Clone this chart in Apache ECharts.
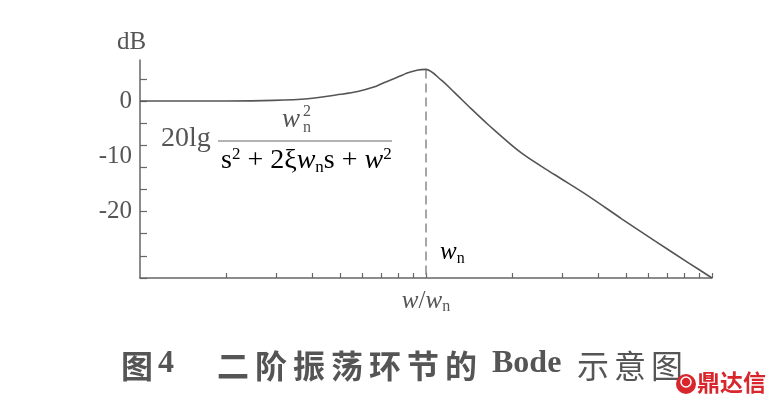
<!DOCTYPE html>
<html>
<head>
<meta charset="utf-8">
<script src="https://cdn.jsdelivr.net/npm/echarts@6/dist/echarts.min.js"></script>
<style>
html,body{margin:0;padding:0;background:#fff;}
#chart{width:777px;height:407px;}
</style>
</head>
<body>
<div id="chart"></div>
<script>
// frequency ratio w/wn (log axis) and magnitude in dB
const ratio  = [0.1, 0.2, 0.293, 0.386, 0.504, 0.577, 0.657, 0.712, 0.772, 0.865, 0.938, 1.0, 1.129, 1.254, 1.438, 1.651, 2.154, 2.812, 3.70, 4.831, 6.31, 8.30, 10];
const gainDb = [0,   0,   0.1,   0.4,   1.2,   1.7,   2.5,   3.3,   4.0,   5.1,   5.6,   5.7, 3.8,   1.6,  -1.4,  -4.3,  -9.4, -13.3, -17.2, -21.3, -25.3, -29.3, -32];
// dashed marker at w = wn
const markerX = [1, 1];
const markerY = [5.7, -32];
// axis ticks / labels
const xTicks = [0.2,0.3,0.4,0.5,0.6,0.7,0.8,0.9,1,2,3,4,5,6,7,8,9,10];
const yTicks = [-32,-28,-24,-20,-16,-12,-8,-4,0,4];
const yLabels = [0,-10,-20];
const titleText = ['图', '4', '二阶振荡环节的', 'Bode', '示意图'];
const watermark = '鼎达信';

const serif = 'Liberation Serif';
const ink = '#555';

const chart = echarts.init(document.getElementById('chart'), null, {renderer:'canvas'});

const curve = ratio.map((r,i)=>[r, gainDb[i]]);
const marker = markerX.map((r,i)=>[r, markerY[i]]);

const titleChars = titleText[2].split('');
const titleGraphics = [];
titleGraphics.push({type:'text', left:121, top:350, style:{text:titleText[0], font:'bold 32px "Noto Sans CJK SC"', fill:ink}});
titleGraphics.push({type:'text', left:158, top:348, style:{text:titleText[1], font:'bold 32px "Liberation Serif"', fill:ink}});
titleChars.forEach((c,i)=>{
  titleGraphics.push({type:'text', left:217 + i*38, top:350, style:{text:c, font:'bold 32px "Noto Sans CJK SC"', fill:ink}});
});
titleGraphics.push({type:'text', left:492, top:348, style:{text:titleText[3], font:'bold 32px "Liberation Serif"', fill:ink}});
titleText[4].split('').forEach((c,i)=>{
  titleGraphics.push({type:'text', left:577 + i*37, top:350, style:{text:c, font:'32px "Noto Sans CJK SC"', fill:ink}});
});

const sp = '\u2005';
const option = {
  backgroundColor:'#fff',
  animation:false,
  grid:{left:140, right:65, top:60, bottom:129, containLabel:false},
  xAxis:{
    type:'log', logBase:10, min:0.1, max:10,
    axisLine:{show:true, onZero:false, lineStyle:{color:'#666', width:1.5}},
    axisTick:{show:true, inside:true, length:5, customValues:xTicks, lineStyle:{color:'#666', width:1.2}},
    axisLabel:{show:false},
    minorTick:{show:false},
    splitLine:{show:false},
    name:'{i|w}{t|/}{i|w}{s|n}',
    nameLocation:'middle', nameGap:9,
    nameTextStyle:{
      rich:{
        i:{fontFamily:serif, fontStyle:'italic', fontSize:25, color:ink, lineHeight:28},
        t:{fontFamily:serif, fontSize:25, color:ink, lineHeight:28},
        s:{fontFamily:serif, fontSize:16, color:ink, verticalAlign:'bottom', lineHeight:20}
      }
    }
  },
  yAxis:{
    type:'value', min:-32, max:7.4,
    axisLine:{show:true, onZero:false, lineStyle:{color:'#666', width:1.5}},
    axisTick:{show:true, inside:true, length:7, customValues:yTicks, lineStyle:{color:'#666', width:1.2}},
    axisLabel:{show:true, customValues:yLabels, fontFamily:serif, fontSize:25, color:ink, margin:8},
    splitLine:{show:false}
  },
  series:[
    {type:'line', data:curve, smooth:0.3, symbol:'none', lineStyle:{color:'#555', width:1.6}, z:3},
    {type:'line', data:marker, symbol:'none', lineStyle:{color:'#888', width:1.5, type:[9,5]}, z:2}
  ],
  graphic:[
    {type:'text', left:117, top:30, style:{text:'dB', font:'25px "Liberation Serif"', fill:ink}},
    // formula
    {type:'text', left:161, top:125, style:{text:'20lg', font:'28px "Liberation Serif"', fill:ink}},
    {type:'text', left:282, top:106, style:{text:'w', font:'italic 27px "Liberation Serif"', fill:ink}},
    {type:'text', left:303, top:104, style:{text:'2', font:'16px "Liberation Serif"', fill:ink}},
    {type:'text', left:303, top:120, style:{text:'n', font:'16px "Liberation Serif"', fill:ink}},
    {type:'line', shape:{x1:218, y1:141, x2:392, y2:141}, style:{stroke:'#666', lineWidth:1.2}},
    {type:'text', left:221, top:146, style:{
      text:'{m|s}{p|2}{m|' + sp + '+' + sp + '2ξ}{i|w}{b|n}{m|s' + sp + '+' + sp + '}{i|w}{p|2}',
      rich:{
        m:{fontFamily:serif, fontSize:28, color:ink, lineHeight:30},
        i:{fontFamily:serif, fontStyle:'italic', fontSize:28, color:ink, lineHeight:30},
        p:{fontFamily:serif, fontSize:17, color:ink, verticalAlign:'top', lineHeight:18},
        b:{fontFamily:serif, fontSize:17, color:ink, verticalAlign:'bottom', lineHeight:18}
      }
    }},
    // wn label at the dashed line
    {type:'text', left:440, top:240, style:{
      text:'{i|w}{b|n}',
      rich:{
        i:{fontFamily:serif, fontStyle:'italic', fontSize:25, color:ink, lineHeight:28},
        b:{fontFamily:serif, fontSize:16, color:ink, verticalAlign:'bottom', lineHeight:18}
      }
    }},
    ...titleGraphics,
    // watermark
    {type:'circle', shape:{cx:686, cy:384, r:10}, style:{fill:'#d8262c'}},
    {type:'circle', shape:{cx:686, cy:382, r:5}, style:{fill:'none', stroke:'#fff', lineWidth:1.5}},
    {type:'text', left:697, top:371, style:{text:watermark, font:'bold 23px "Noto Sans CJK SC"', fill:'#d8262c'}}
  ]
};
chart.setOption(option);
</script>
</body>
</html>
